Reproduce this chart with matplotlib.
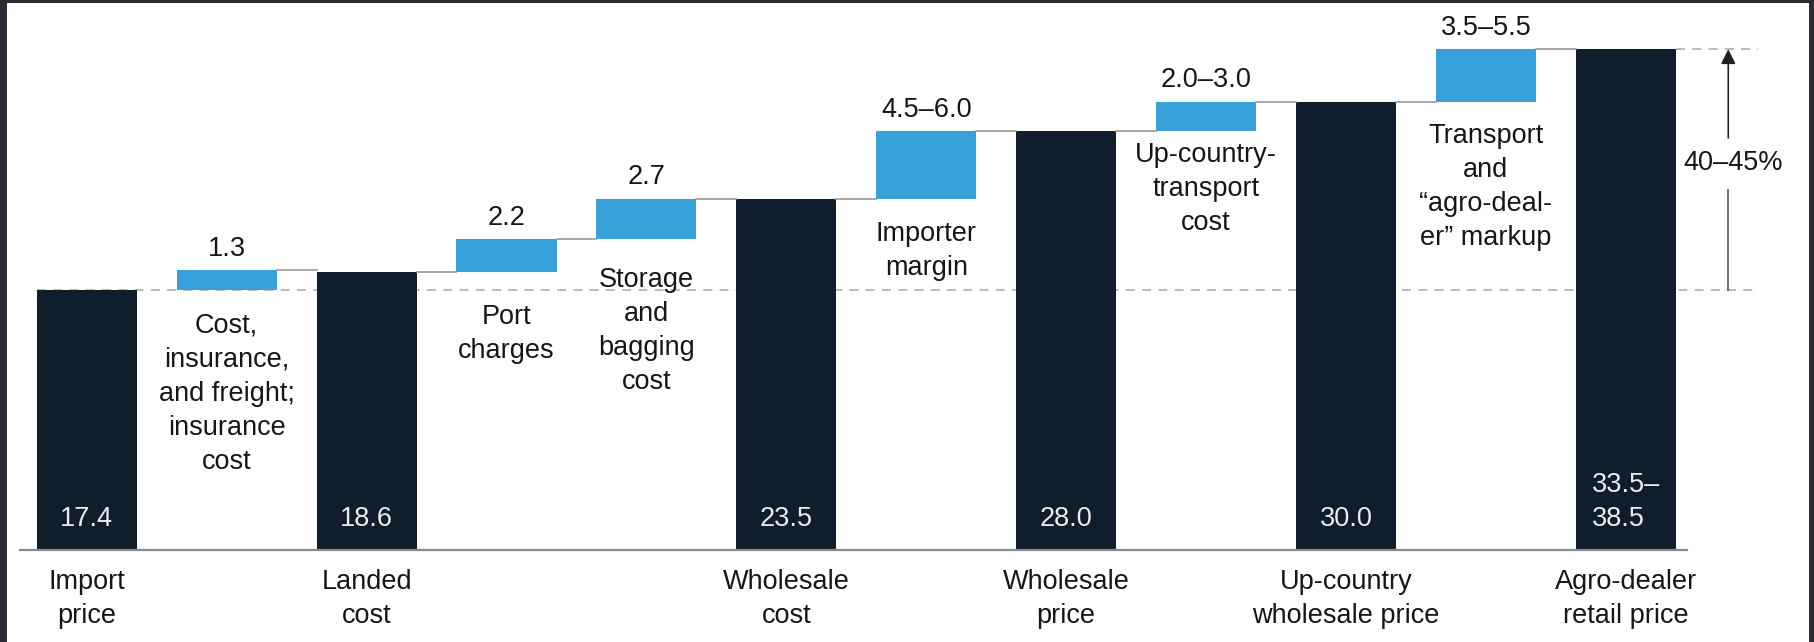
import matplotlib.pyplot as plt

plt.rcParams['font.family'] = ['Liberation Sans', 'DejaVu Sans']

# price build-up, $ per bag
totals = [17.4, 18.6, 23.5, 28.0, 30.0, 33.5]
total_labels = ['17.4', '18.6', '23.5', '28.0', '30.0', '33.5–\n38.5']
categories = ['Import\nprice', 'Landed\ncost', 'Wholesale\ncost', 'Wholesale\nprice',
              'Up-country\nwholesale price', 'Agro-dealer\nretail price']

# cost steps between the totals (lower bound drawn, range in the label)
steps = [1.3, 2.2, 2.7, 4.5, 2.0, 3.5]
step_labels = ['1.3', '2.2', '2.7', '4.5–6.0', '2.0–3.0', '3.5–5.5']
step_names = ['Cost,\ninsurance,\nand freight;\ninsurance\ncost',
              'Port\ncharges',
              'Storage\nand\nbagging\ncost',
              'Importer\nmargin',
              'Up-country-\ntransport\ncost',
              'Transport\nand\n“agro-deal-\ner” markup']
steps_per_stage = [1, 2, 1, 1, 1]
markup_label = '40–45%'

# how far each step name sits under its bar (data units, to first baseline)
name_drop = [2.84, 3.46, 3.16, 2.8, 2.0, 2.77]

DARK = '#0f1d2c'
BLUE = '#39a1da'
TXT = '#161616'
W = 0.715
FS = 19.5
ASC = 1.3  # text ascent in data units, baseline -> top of box

fig = plt.figure(figsize=(18.15, 6.42), dpi=100)
fig.patch.set_facecolor('#2b2b33')
ax = fig.add_axes([7 / 1815, 0, 1802 / 1815, 639 / 642])
ax.set_facecolor('white')
ax.set_xlim(-0.5704, 12.310)
ax.set_ylim(-6.154, 36.59)
ax.set_xticks([])
ax.set_yticks([])
for s in ax.spines.values():
    s.set_visible(False)

bars = []  # (x, top) in drawing order


def dark_bar(x, i):
    ax.bar(x, totals[i], width=W, color=DARK, zorder=2)
    ax.text(x, 1.22, total_labels[i], ha='center', va='bottom', color='#ececec',
            fontsize=FS, multialignment='left', linespacing=1.4, zorder=4)
    ax.text(x, -2.54 + ASC, categories[i], ha='center', va='top', color=TXT,
            fontsize=FS, linespacing=1.4, zorder=4)
    bars.append((x, totals[i]))


x = 0
dark_bar(x, 0)
level = totals[0]
k = 0
for stage, n in enumerate(steps_per_stage):
    for _ in range(n):
        x += 1
        ax.bar(x, steps[k], bottom=level, width=W, color=BLUE, zorder=2)
        ax.text(x, level + steps[k] + 0.95, step_labels[k], ha='center', va='baseline',
                color=TXT, fontsize=FS, zorder=4)
        ax.text(x, level - name_drop[k] + ASC, step_names[k], ha='center', va='top',
                color=TXT, fontsize=FS, linespacing=1.4, zorder=4)
        level += steps[k]
        bars.append((x, level))
        k += 1
    x += 1
    dark_bar(x, stage + 1)
    level = totals[stage + 1]

# connectors between neighbouring bars
for (x0, top), (x1, _) in zip(bars[1:-1], bars[2:]):
    ax.plot([x0 + W / 2, x1 - W / 2], [top, top], color='#9a9a9a', lw=1.2, zorder=3)

# dashed reference lines for import and retail level
x_end = 11.946
ax.plot([-W / 2, x_end], [totals[0], totals[0]], color='#b5b5b5', lw=1.3,
        ls=(0, (5, 4)), zorder=1)
ax.plot([11 + W / 2, x_end], [totals[-1], totals[-1]], color='#b5b5b5', lw=1.3,
        ls=(0, (5, 4)), zorder=1)

# markup arrow
xa = 11.733
ax.annotate('', xy=(xa, totals[-1]), xytext=(xa, 27.56),
            arrowprops=dict(arrowstyle='-|>', color='#222222', lw=1.2,
                            mutation_scale=22, shrinkA=0, shrinkB=0))
ax.plot([xa, xa], [totals[0], 24.08], color='#555555', lw=1.2, zorder=3)
ax.text(11.77, 25.42, markup_label, ha='center', va='baseline', color=TXT,
        fontsize=FS, zorder=4)

# baseline
ax.plot([-0.48, 11.44], [0, 0], color='#8a8a8a', lw=1.6, zorder=3)

fig.savefig('out.png', dpi=100, facecolor=fig.get_facecolor())
